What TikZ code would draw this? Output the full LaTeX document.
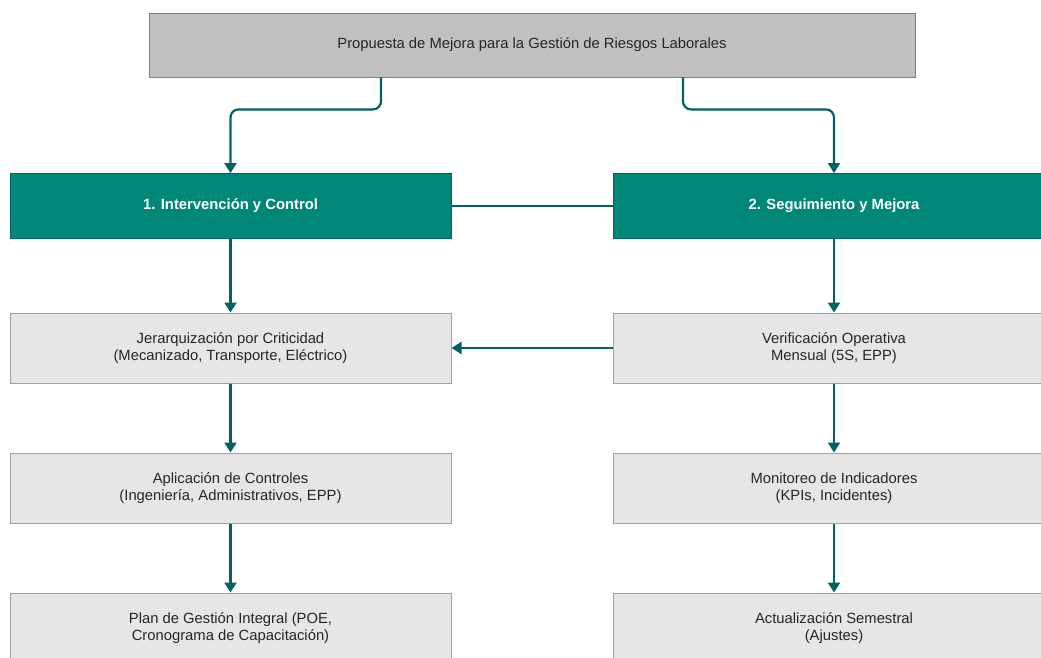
\documentclass[tikz,border=0pt]{standalone}
\usepackage{fontspec}
\setmainfont{Liberation Sans}
\usetikzlibrary{arrows.meta,positioning}

\definecolor{tealfill}{RGB}{0,135,120}
\definecolor{tealline}{RGB}{0,98,100}
\definecolor{topfill}{RGB}{192,192,192}
\definecolor{boxfill}{RGB}{230,230,230}
\definecolor{boxline}{RGB}{160,160,160}

\begin{document}
\begin{tikzpicture}[
    x=1pt, y=-1pt,
    every node/.style={font=\fontsize{14.8}{17}\selectfont, text=black!85, align=center},
    tp/.style={rectangle, draw=black!50, fill=topfill, line width=0.8pt,
               minimum width=766pt, minimum height=64pt, inner sep=0pt},
    hd/.style={rectangle, draw=tealline, fill=tealfill, line width=0.8pt,
               minimum width=441pt, minimum height=65pt, inner sep=0pt,
               text=white, font=\fontsize{14.8}{17}\selectfont\bfseries},
    bx/.style={rectangle, draw=boxline, fill=boxfill, line width=1pt,
               minimum width=441pt, minimum height=70pt, inner sep=0pt},
    e/.style={draw=tealline, line width=2.2pt, -{Triangle[length=10pt, width=12pt]}},
    ln/.style={draw=tealline, line width=2.2pt},
  ]
  \useasboundingbox (0,0) rectangle (1041,657);
  \clip (0,0) rectangle (1041,657);
  \node[tp] (top) at (532, 45) {Propuesta de Mejora para la Gestión de Riesgos Laborales};
  \node[hd] (h1) at (230.5, 206) {1. Intervención y Control};
  \node[hd] (h2) at (834, 206) {2. Seguimiento y Mejora};
  \node[bx] (a1) at (230.5, 348) {Jerarquización por Criticidad\\(Mecanizado, Transporte, Eléctrico)};
  \node[bx] (a2) at (230.5, 488) {Aplicación de Controles\\(Ingeniería, Administrativos, EPP)};
  \node[bx] (a3) at (230.5, 628) {Plan de Gestión Integral (POE,\\Cronograma de Capacitación)};
  \node[bx] (b1) at (834, 348) {Verificación Operativa\\Mensual (5S, EPP)};
  \node[bx] (b2) at (834, 488) {Monitoreo de Indicadores\\(KPIs, Incidentes)};
  \node[bx] (b3) at (834, 628) {Actualización Semestral\\(Ajustes)};
  % branches from the proposal
  \draw[e, rounded corners=8pt] ([xshift=-151pt]top.south) -- ++(0,32) -| (h1.north);
  \draw[e, rounded corners=8pt] ([xshift=151pt]top.south) -- ++(0,32) -| (h2.north);
  \draw[ln] (h1) -- (h2);
  % left column
  \draw[e] (h1) -- (a1);
  \draw[e] (a1) -- (a2);
  \draw[e] (a2) -- (a3);
  % right column
  \draw[e] (h2) -- (b1);
  \draw[e] (b1) -- (b2);
  \draw[e] (b2) -- (b3);
  \draw[e] (b1) -- (a1);
\end{tikzpicture}
\end{document}
